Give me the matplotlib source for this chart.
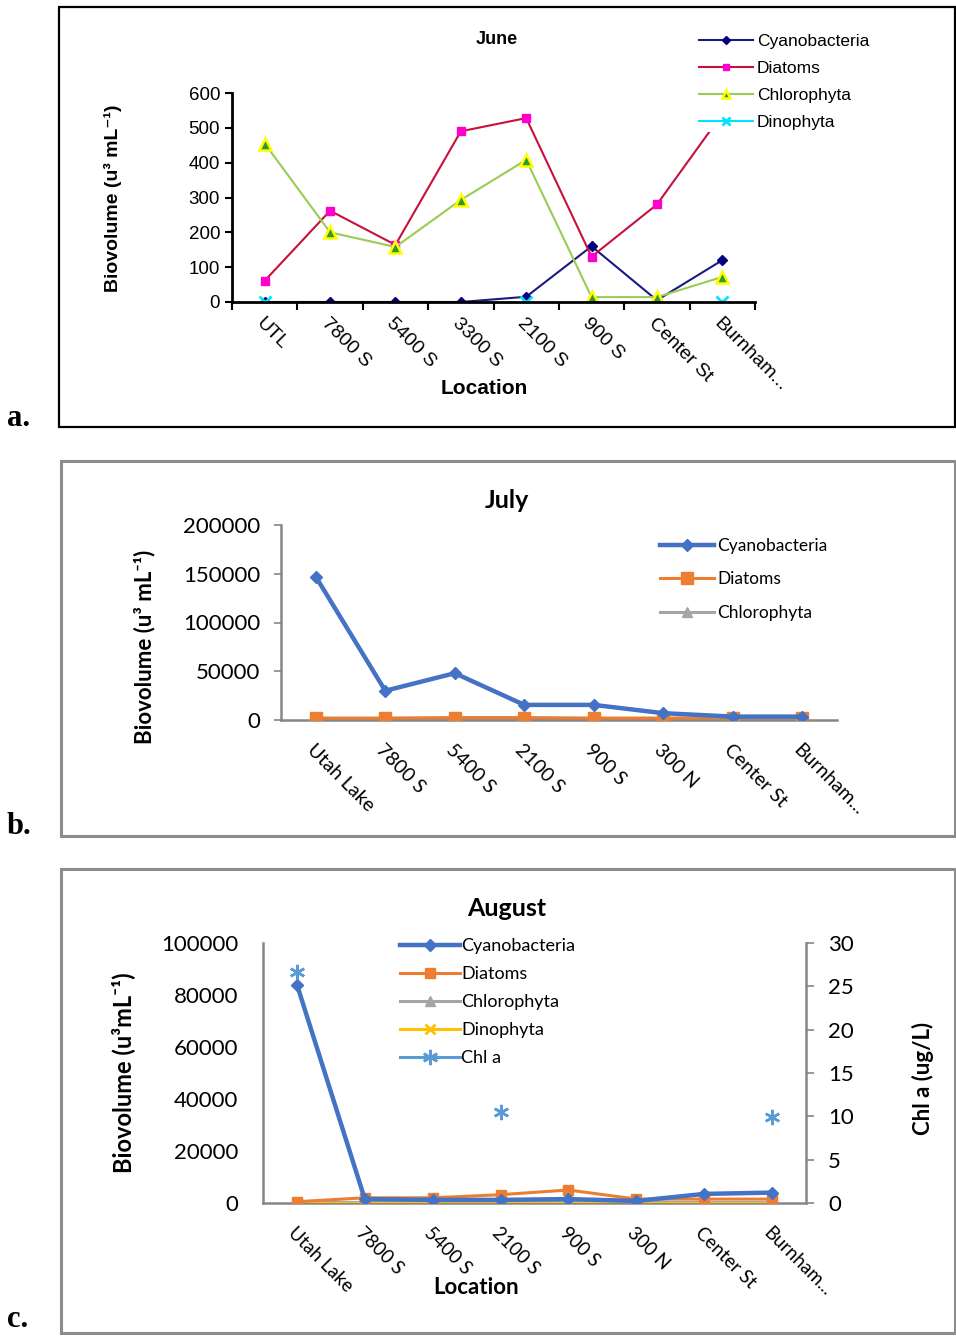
import numpy as np
import matplotlib
matplotlib.use("Agg")
import matplotlib.pyplot as plt
from matplotlib.patches import Rectangle

W, H = 956, 1336
nan = np.nan

# June
june_sites = ["UTL", "7800 S", "5400 S", "3300 S", "2100 S", "900 S", "Center St", "Burnham..."]
june_cyano = [0, 0, 0, 0, 15, 160, 5, 120]
june_diatoms = [61, 262, 164, 490, 528, 130, 280, 540]
june_chloro = [455, 200, 158, 293, 408, 14, 14, 72]
june_dino = [0, nan, nan, nan, 0, nan, nan, 0]

# July
july_sites = ["Utah Lake", "7800 S", "5400 S", "2100 S", "900 S", "300 N", "Center St", "Burnham..."]
july_cyano = [147000, 30000, 48000, 15500, 15500, 7000, 3500, 3500]
july_diatoms = [2000, 2000, 2500, 2500, 2000, 2000, 2500, 2500]
july_chloro = [300, 300, 300, 300, 300, 300, 300, 300]

# August
aug_sites = ["Utah Lake", "7800 S", "5400 S", "2100 S", "900 S", "300 N", "Center St", "Burnham..."]
aug_cyano = [84000, 1500, 1200, 1200, 1500, 800, 3500, 4000]
aug_diatoms = [500, 2000, 2000, 3200, 5000, 1500, 1500, 1500]
aug_chloro = [500, 500, 500, 500, 500, 500, 500, 500]
aug_dino = [100, 100, 100, 100, 100, 100, 100, 100]
aug_chla = [26.7, nan, nan, 10.5, nan, nan, nan, 9.9]


def px_axes(fig, x0, y0, x1, y1):
    return fig.add_axes([x0 / W, 1 - y1 / H, (x1 - x0) / W, (y1 - y0) / H])


def fx(x):
    return x / W


def fy(y):
    return 1 - y / H


fig = plt.figure(figsize=(W / 100, H / 100), dpi=100)
fig.patch.set_facecolor("white")

# panel frames and letters
fig.add_artist(Rectangle((fx(59), fy(427)), fx(955) - fx(59), fy(7) - fy(427),
                         transform=fig.transFigure, fill=False, ec="black", lw=1.6))
for top, bot in [(461, 836), (869, 1333)]:
    fig.add_artist(Rectangle((fx(61), fy(bot)), fx(955) - fx(61), fy(top) - fy(bot),
                             transform=fig.transFigure, fill=False, ec="#8c8c8c", lw=2.2))
for letter, yb in [("a.", 426), ("b.", 834), ("c.", 1327)]:
    fig.text(fx(7), fy(yb), letter, family="Liberation Serif", weight="bold",
             fontsize=22, va="baseline", ha="left")

# ---------------- June ----------------
arial = ["Liberation Sans", "DejaVu Sans"]
ax = px_axes(fig, 232, 93, 755, 302)
x = np.arange(len(june_sites))
ax.plot(x, june_cyano, color="#1a1a80", lw=1.5, marker="D", ms=5,
        mfc="#000080", mec="#000080", label="Cyanobacteria")
ax.plot(x, june_diatoms, color="#c8103c", lw=1.5, marker="s", ms=6,
        mfc="#ff00cc", mec="#ff00cc", label="Diatoms")
ax.plot(x, june_chloro, color="#99cc55", lw=1.5, marker="^", ms=8,
        mfc="#2e9a2e", mec="#ffff00", mew=1.8, label="Chlorophyta")
ax.plot(x, june_dino, color="#00e5ff", lw=1.5, marker="x", ms=8, mew=2,
        mec="#00e5ff", label="Dinophyta")
ax.set_xlim(-0.5, len(june_sites) - 0.5)
ax.set_ylim(0, 600)
ax.set_yticks(range(0, 601, 100))
ax.set_xticks(x)
ax.set_xticks(np.arange(-0.5, len(june_sites), 1), minor=True)
ax.tick_params(axis="x", which="major", length=0, pad=9)
ax.tick_params(axis="x", which="minor", length=6, width=1.5, direction="out")
ax.tick_params(axis="y", length=5, width=1.5, direction="out", labelsize=13.5)
ax.set_xticklabels(june_sites, rotation=-45, ha="left", va="top",
                   rotation_mode="anchor", fontsize=14, family=arial)
for t in ax.get_yticklabels():
    t.set_family(arial)
for s in ["top", "right"]:
    ax.spines[s].set_visible(False)
for s in ["left", "bottom"]:
    ax.spines[s].set_linewidth(2)
ax.set_ylabel("Biovolume (u³ mL⁻¹)", family=arial, weight="bold", fontsize=14)
ax.yaxis.set_label_coords(fx(122), fy(198), transform=fig.transFigure)
fig.text(fx(497), fy(40), "June", family=arial, weight="bold", fontsize=13,
         ha="center", va="center")
fig.text(fx(484), fy(388), "Location", family=arial, weight="bold", fontsize=15,
         ha="center", va="center")
leg = ax.legend(loc="upper left", bbox_to_anchor=(fx(697), fy(32)),
                bbox_transform=fig.transFigure, frameon=True, framealpha=1,
                facecolor="white", edgecolor="none", fancybox=False,
                prop={"family": arial, "size": 12.5}, handlelength=3.1,
                handletextpad=0.25, labelspacing=0.68, borderpad=0.1,
                borderaxespad=0, markerscale=0.8)

# ---------------- July ----------------
lato = ["Lato", "DejaVu Sans"]
gray = "#868686"
ax = px_axes(fig, 281, 525, 837, 720)
x = np.arange(len(july_sites))
ax.plot(x, july_cyano, color="#4472c4", lw=3.2, marker="D", ms=6,
        label="Cyanobacteria", zorder=4)
ax.plot(x, july_diatoms, color="#ed7d31", lw=2.2, marker="s", ms=8,
        label="Diatoms", zorder=3)
ax.plot(x, july_chloro, color="#a5a5a5", lw=2.2, marker="^", ms=7,
        label="Chlorophyta", zorder=2)
ax.set_xlim(-0.5, len(july_sites) - 0.5)
ax.set_ylim(0, 200000)
ax.set_yticks(range(0, 200001, 50000))
ax.set_xticks(x)
ax.set_xticklabels(july_sites, rotation=-45, ha="left", va="top",
                   rotation_mode="anchor", fontsize=14, family=lato)
ax.tick_params(axis="x", length=0, pad=15)
ax.tick_params(axis="y", length=5, width=1.2, color=gray, direction="out",
               labelsize=16, pad=10)
for t in ax.get_yticklabels():
    t.set_family(lato)
for s in ["top", "right"]:
    ax.spines[s].set_visible(False)
for s in ["left", "bottom"]:
    ax.spines[s].set_color(gray)
    ax.spines[s].set_linewidth(1.8)
ax.set_ylabel("Biovolume (u³ mL⁻¹)", family=lato, weight="bold", fontsize=16)
ax.yaxis.set_label_coords(fx(155), fy(647), transform=fig.transFigure)
fig.text(fx(507), fy(500), "July", family=lato, weight="bold", fontsize=18,
         ha="center", va="center")
ax.legend(loc="upper left", bbox_to_anchor=(fx(660), fy(538)),
          bbox_transform=fig.transFigure, frameon=False,
          prop={"family": lato, "size": 12.5}, handlelength=3.1,
          handletextpad=0.2, labelspacing=1.0, borderpad=0, borderaxespad=0)

# ---------------- August ----------------
ax = px_axes(fig, 263, 943, 806, 1203)
x = np.arange(len(aug_sites))
ax.plot(x, aug_cyano, color="#4472c4", lw=3.2, marker="D", ms=6,
        label="Cyanobacteria", zorder=5)
ax.plot(x, aug_diatoms, color="#ed7d31", lw=2.2, marker="s", ms=7,
        label="Diatoms", zorder=4)
ax.plot(x, aug_chloro, color="#a5a5a5", lw=2.2, marker="^", ms=7,
        label="Chlorophyta", zorder=3)
ax.plot(x, aug_dino, color="#ffc000", lw=2.2, marker="x", ms=7, mew=2,
        label="Dinophyta", zorder=3)
ax.set_xlim(-0.5, len(aug_sites) - 0.5)
ax.set_ylim(0, 100000)
ax.set_yticks(range(0, 100001, 20000))
ax.set_xticks(x)
ax.set_xticklabels(aug_sites, rotation=-45, ha="left", va="top",
                   rotation_mode="anchor", fontsize=13.5, family=lato)
ax.tick_params(axis="x", length=0, pad=15)
ax.tick_params(axis="y", length=0, labelsize=16, pad=18)
for t in ax.get_yticklabels():
    t.set_family(lato)
for s in ["top", "right"]:
    ax.spines[s].set_visible(False)
for s in ["left", "bottom"]:
    ax.spines[s].set_color(gray)
    ax.spines[s].set_linewidth(1.8)
ax.set_ylabel("Biovolume (u³mL⁻¹)", family=lato, weight="bold", fontsize=17)
ax.yaxis.set_label_coords(fx(135), fy(1073), transform=fig.transFigure)

ax2 = ax.twinx()
ax2.plot(x, aug_chla, color="#5b9bd5", lw=2.2, marker=(6, 2, 0), ms=11, mew=1.8,
         label="Chl a", zorder=6)
ax2.set_ylim(0, 30)
ax2.set_yticks(range(0, 31, 5))
ax2.tick_params(axis="y", length=6, width=1.2, color=gray, direction="out",
                labelsize=16, pad=10)
for t in ax2.get_yticklabels():
    t.set_family(lato)
for s in ["top", "left", "bottom"]:
    ax2.spines[s].set_visible(False)
ax2.spines["right"].set_color(gray)
ax2.spines["right"].set_linewidth(1.8)
ax2.set_ylabel("Chl a (ug/L)", family=lato, weight="bold", fontsize=16)
ax2.yaxis.set_label_coords(fx(912), fy(1078), transform=fig.transFigure)

fig.text(fx(507), fy(908), "August", family=lato, weight="bold", fontsize=18,
         ha="center", va="center")
fig.text(fx(476), fy(1287), "Location", family=lato, weight="bold", fontsize=16,
         ha="center", va="center")
h1, l1 = ax.get_legend_handles_labels()
h2, l2 = ax2.get_legend_handles_labels()
ax2.legend(h1 + h2, l1 + l2, loc="upper left", bbox_to_anchor=(fx(400), fy(938)),
           bbox_transform=fig.transFigure, frameon=False,
           prop={"family": lato, "size": 13}, handlelength=3.3,
           handletextpad=0.1, labelspacing=0.67, borderpad=0, borderaxespad=0)

fig.savefig("out.png", dpi=100, facecolor="white")
